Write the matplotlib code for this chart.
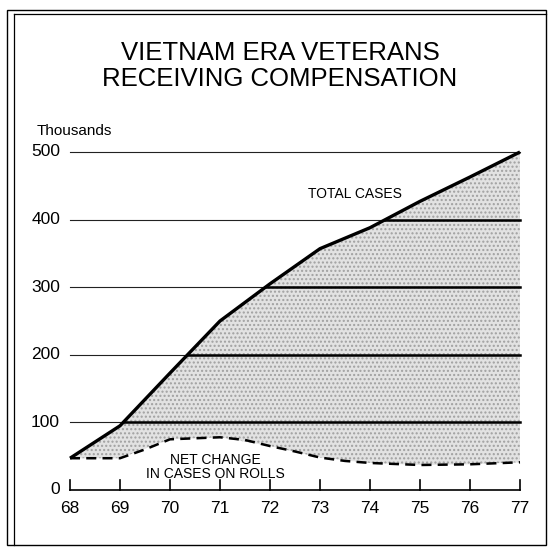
import numpy as np
import matplotlib
matplotlib.use("Agg")
import matplotlib.pyplot as plt
from matplotlib.patches import Rectangle
from matplotlib.lines import Line2D

# ---- data (thousands of cases) ----
years = [68, 69, 70, 71, 72, 73, 74, 75, 76, 77]
total_cases = [47, 95, 173, 250, 305, 357, 388, 427, 463, 500]
net_years = [68, 69, 69.5, 70, 71, 71.5, 72, 72.5, 73, 73.5, 74, 75, 76, 77]
net_change = [47, 47, 60, 75, 78, 74, 65, 57, 48, 43, 40, 37, 38, 41]
grid_vals = [100, 200, 300, 400, 500]
ytick_vals = [0, 100, 200, 300, 400, 500]
xtick_labels = [str(y) for y in years]

W, H = 552, 548
fig = plt.figure(figsize=(W / 100, H / 100), dpi=100)
plt.rcParams["font.family"] = ["Liberation Sans", "DejaVu Sans"]

# axes placed so 68..77 spans px 70..520 and 0..500 spans px 490..152
ax = fig.add_axes([70 / W, (H - 490) / H, 450 / W, 338 / H])
ax.set_xlim(68, 77)
ax.set_ylim(0, 500)
ax.axis("off")

# shaded band between the two series
fill_x = np.array(years, dtype=float)
net_on_years = np.interp(fill_x, net_years, net_change)
ax.fill_between(fill_x, net_on_years, total_cases, facecolor="#e2e2e2",
                edgecolor="#a0a0a0", hatch="....", lw=0, zorder=1)

# grid lines: thin over white, heavy inside the shaded area
for v in grid_vals:
    ax.plot([68, 77], [v, v], color="#222222", lw=0.8, zorder=2, clip_on=False)
    x_cross = np.interp(v, total_cases, years)
    ax.plot([x_cross, 77], [v, v], color="black", lw=1.8, zorder=2, clip_on=False)

ax.plot(years, total_cases, color="black", lw=2.4, zorder=4, clip_on=False,
        solid_capstyle="butt")
ax.plot(net_years, net_change, color="black", lw=1.8, ls=(0, (4, 2.5)), zorder=4,
        clip_on=False)

# x axis line with upward ticks
ax.plot([68, 77], [0, 0], color="black", lw=1.2, clip_on=False)
for y, lab in zip(years, xtick_labels):
    ax.plot([y, y], [0, 15], color="black", lw=1.2, clip_on=False)
    ax.text(y, -16, lab, ha="center", va="top", fontsize=12.5)

for v in ytick_vals:
    ax.text(67.8, v, str(v), ha="right", va="center", fontsize=12.5)

ax.text(67.34, 531, "Thousands", ha="left", va="center", fontsize=11)

ax.text(73.7, 427, "TOTAL CASES", ha="center", va="bottom", fontsize=10)
ax.text(70.9, 55, "NET CHANGE\nIN CASES ON ROLLS", ha="center", va="top",
        fontsize=10, linespacing=1.0)

fig.text(280 / W, 1 - 66 / H, "VIETNAM ERA VETERANS\nRECEIVING COMPENSATION",
         ha="center", va="center", fontsize=18.5, linespacing=1.1)

# double frame around the whole chart
fig.patches.append(Rectangle((7 / W, 3 / H), 539 / W, 535 / H, transform=fig.transFigure,
                             fill=False, ec="black", lw=1.0))
fig.lines.append(Line2D([14 / W, 14 / W], [3 / H, 534 / H], transform=fig.transFigure,
                        color="black", lw=0.9))
fig.lines.append(Line2D([14 / W, 546 / W], [534 / H, 534 / H], transform=fig.transFigure,
                        color="black", lw=0.9))

fig.savefig("out.png", dpi=100)
